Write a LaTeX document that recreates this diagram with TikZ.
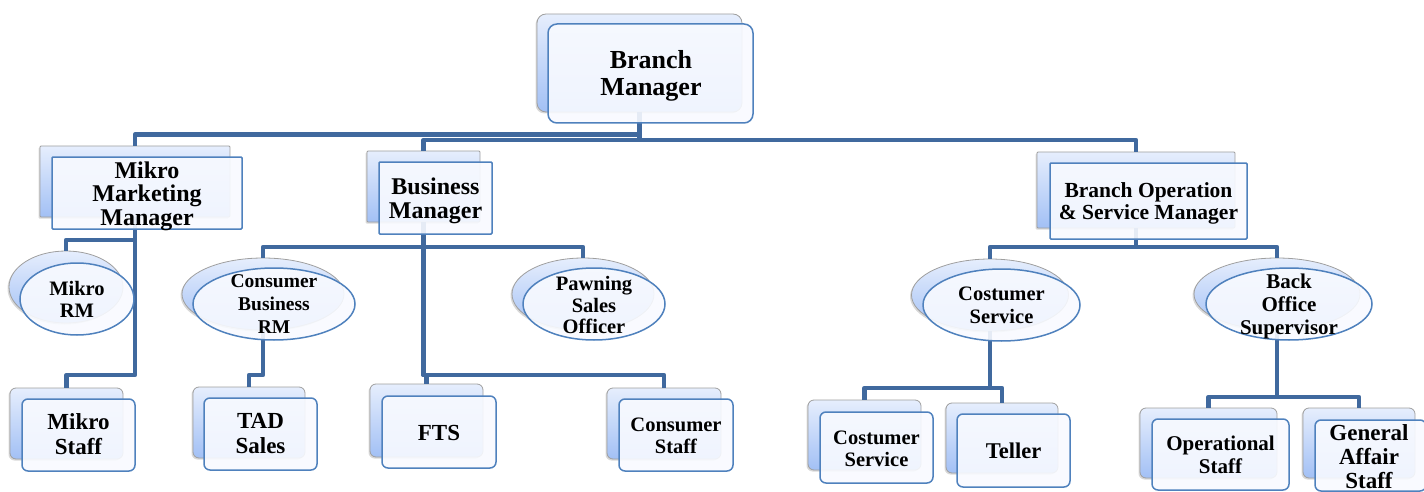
\documentclass[tikz,border=0pt]{standalone}
\usepackage{fontspec}
\setmainfont{Liberation Serif}
\usetikzlibrary{shadows,shapes.geometric}
\definecolor{connc}{RGB}{64,105,158}
\definecolor{frontline}{RGB}{79,129,189}
\definecolor{backtop}{RGB}{230,238,253}
\definecolor{backbot}{RGB}{162,192,245}
\definecolor{frontfill}{RGB}{248,250,255}
\begin{document}
\begin{tikzpicture}[x=1pt,y=-1pt,
  backshape/.style={draw=gray!75, line width=0.8pt, top color=backtop, bottom color=backbot,
    drop shadow={shadow xshift=-1.5pt,shadow yshift=-1.5pt,opacity=0.3},
    inner sep=0pt, outer sep=0pt},
  frontshape/.style={draw=frontline, line width=1.5pt, fill=frontfill, fill opacity=0.9,
    inner sep=0pt, outer sep=0pt},
  roundbox/.style={rectangle, rounded corners=6pt},
  squarebox/.style={rectangle, rounded corners=1pt},
  oval/.style={ellipse},
  conn/.style={draw=connc, line width=4.5pt, line join=round},
  lbl/.style n args={2}{align=center, inner sep=0pt, font=\bfseries\fontsize{#1}{#2}\selectfont},
]
\useasboundingbox (0,0) rectangle (1424,492);

% ---------- back shapes ----------
\node[backshape, rectangle, rounded corners=9pt, minimum width=205pt, minimum height=98pt] (bmB) at (639.5,63) {};
\node[backshape, squarebox, minimum width=190pt, minimum height=71pt] (mmmB) at (135,181.5) {};
\node[backshape, squarebox, minimum width=113pt, minimum height=71pt] (busB) at (423.5,186.5) {};
\node[backshape, squarebox, minimum width=198pt, minimum height=76pt] (bosmB) at (1136,190) {};
\node[backshape, oval, minimum width=114pt, minimum height=72pt] (mrmB) at (66,287) {};
\node[backshape, oval, minimum width=162pt, minimum height=72pt] (cbrmB) at (263,294) {};
\node[backshape, oval, minimum width=142pt, minimum height=72pt] (psoB) at (583,294) {};
\node[backshape, oval, minimum width=157pt, minimum height=72pt] (csEB) at (990,295) {};
\node[backshape, oval, minimum width=166pt, minimum height=72pt] (bosB) at (1277,294) {};
\node[backshape, roundbox, minimum width=113pt, minimum height=71pt] (msB) at (66.5,423.5) {};
\node[backshape, roundbox, minimum width=112pt, minimum height=71pt] (tadB) at (249,422.5) {};
\node[backshape, roundbox, minimum width=113pt, minimum height=73pt] (ftsB) at (426.5,420.5) {};
\node[backshape, roundbox, minimum width=114pt, minimum height=71pt] (cstB) at (664,423.5) {};
\node[backshape, roundbox, minimum width=113pt, minimum height=70pt] (csBB) at (864.5,435) {};
\node[backshape, roundbox, minimum width=112pt, minimum height=70pt] (telB) at (1002,438) {};
\node[backshape, roundbox, minimum width=137pt, minimum height=70pt] (opsB) at (1208.5,443) {};
\node[backshape, roundbox, minimum width=112pt, minimum height=70pt] (gasB) at (1359,443) {};

% ---------- connectors ----------
\draw[conn] (bmB.south) -- ++(0,22.5) -| (mmmB.north);
\draw[conn] (bmB.south) -- ++(0,28) -| (busB.north);
\draw[conn] (bmB.south) -- ++(0,28) -| (bosmB.north);
\draw[conn] (mmmB.south) -- ++(0,23) -| (mrmB.north);
\draw[conn] (mmmB.south) -- ++(0,158) -| (msB.north);
\draw[conn] (busB.south) -- ++(0,25) -| (cbrmB.north);
\draw[conn] (busB.south) -- ++(0,25) -| (psoB.north);
\draw[conn] (busB.south) -- ++(0,153) -| (ftsB.north);
\draw[conn] (busB.south) -- ++(0,153) -| (cstB.north);
\draw[conn] (cbrmB.south) -- ++(0,45) -| (tadB.north);
\draw[conn] (bosmB.south) -- ++(0,19) -| (csEB.north);
\draw[conn] (bosmB.south) -- ++(0,19) -| (bosB.north);
\draw[conn] (csEB.south) -- ++(0,57) -| (csBB.north);
\draw[conn] (csEB.south) -- ++(0,57) -| (telB.north);
\draw[conn] (bosB.south) -- ++(0,67) -| (opsB.north);
\draw[conn] (bosB.south) -- ++(0,67) -| (gasB.north);

% ---------- front shapes ----------
\node[frontshape, rectangle, rounded corners=9pt, minimum width=205pt, minimum height=99pt] (bm) at (650.5,73.5) {};
\node[frontshape, squarebox, minimum width=190pt, minimum height=72pt] (mmm) at (147,193) {};
\node[frontshape, squarebox, minimum width=113pt, minimum height=72pt] (bus) at (435.5,198) {};
\node[frontshape, squarebox, minimum width=197pt, minimum height=76pt] (bosm) at (1148.5,201) {};
\node[frontshape, oval, minimum width=114pt, minimum height=72pt] (mrm) at (77,299) {};
\node[frontshape, oval, minimum width=162pt, minimum height=72pt] (cbrm) at (274,304) {};
\node[frontshape, oval, minimum width=142pt, minimum height=72pt] (pso) at (594,304) {};
\node[frontshape, oval, minimum width=157pt, minimum height=72pt] (csE) at (1001.5,305) {};
\node[frontshape, oval, minimum width=166pt, minimum height=72pt] (bos) at (1289,304) {};
\node[frontshape, roundbox, minimum width=113pt, minimum height=72pt] (ms) at (78.5,435) {};
\node[frontshape, roundbox, minimum width=113pt, minimum height=72pt] (tad) at (260.5,434) {};
\node[frontshape, roundbox, minimum width=114pt, minimum height=72pt] (fts) at (439,432) {};
\node[frontshape, roundbox, minimum width=114pt, minimum height=72pt] (cst) at (676,435) {};
\node[frontshape, roundbox, minimum width=113pt, minimum height=71pt] (csB) at (876.5,447.5) {};
\node[frontshape, roundbox, minimum width=113pt, minimum height=73pt] (tel) at (1013.5,450.5) {};
\node[frontshape, roundbox, minimum width=137pt, minimum height=71pt] (ops) at (1220.5,454.5) {};
\node[frontshape, roundbox, minimum width=111pt, minimum height=71pt] (gas) at (1370.5,455.5) {};

% ---------- labels ----------
\node[lbl={26}{27}] (bmT) at (651,76) {Branch\\Manager};
\node[lbl={24}{23.5}] (mmmT) at (147,196) {Mikro\\Marketing\\Manager};
\node[lbl={24}{24}] (busT) at (435.5,200.5) {Business\\Manager};
\node[lbl={21.5}{22}] (bosmT) at (1148.5,203.5) {Branch Operation\\\& Service Manager};
\node[lbl={20.5}{22}] (mrmT) at (mrm) {Mikro\\RM};
\node[lbl={19.5}{23}] (cbrmT) at (cbrm) {Consumer\\Business\\RM};
\node[lbl={20.5}{21.5}] (psoT) at (594,305) {Pawning\\Sales\\Officer};
\node[lbl={20.5}{23}] (csET) at (csE) {Costumer\\Service};
\node[lbl={21}{23}] (bosT) at (1289,306) {Back\\Office\\Supervisor};
\node[lbl={23}{25}] (msT) at (78.5,434) {Mikro\\Staff};
\node[lbl={23}{25}] (tadT) at (tad) {TAD\\Sales};
\node[lbl={23}{25}] (ftsT) at (439,433) {FTS};
\node[lbl={20.5}{22}] (cstT) at (676,436) {Consumer\\Staff};
\node[lbl={20.5}{22}] (csBT) at (876.5,448.5) {Costumer\\Service};
\node[lbl={22.5}{24}] (telT) at (tel) {Teller};
\node[lbl={21}{23}] (opsT) at (ops) {Operational\\Staff};
\node[lbl={23}{24}] (gasT) at (1369,457) {General\\Affair\\Staff};
\end{tikzpicture}
\end{document}
